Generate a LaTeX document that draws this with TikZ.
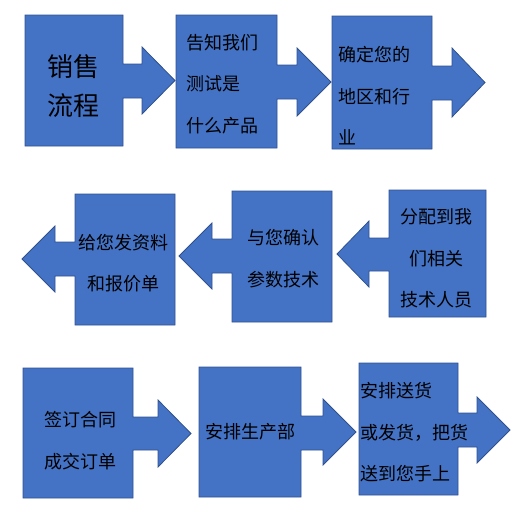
\documentclass[tikz,border=0pt]{standalone}
\usepackage{fontspec}
\newfontfamily\cjk{Noto Sans CJK SC}
\definecolor{boxfill}{HTML}{4472C4}
\definecolor{boxline}{HTML}{2F528F}
\begin{document}
\begin{tikzpicture}[x=1pt,y=-1pt,
  callout/.style={fill=boxfill,draw=boxline,line width=0.8pt,line join=miter},
  lbl/.style={inner sep=0pt,text=black,font=\cjk\fontsize{18}{41.5}\selectfont},
  biglbl/.style={inner sep=0pt,text=black,font=\cjk\fontsize{26}{39}\selectfont}]
\useasboundingbox (0,0) rectangle (520,512);
% row 1
\draw[callout] (25,15) -- (123,15) -- (123,64) -- (142,64) -- (142,47) -- (175,80.5) -- (142,114) -- (142,98) -- (123,98) -- (123,146) -- (25,146) -- cycle;
\draw[callout] (176,15) -- (277,15) -- (277,65) -- (297,65) -- (297,48) -- (331,82) -- (297,116) -- (297,99) -- (277,99) -- (277,148) -- (176,148) -- cycle;
\draw[callout] (332,16) -- (432,16) -- (432,66) -- (452,66) -- (452,48) -- (485,82.5) -- (452,117) -- (452,100) -- (432,100) -- (432,149) -- (332,149) -- cycle;
% row 2
\draw[callout] (175,194) -- (175,325) -- (75,325) -- (75,276) -- (55,276) -- (55,292) -- (22,259) -- (55,226) -- (55,242) -- (75,242) -- (75,194) -- cycle;
\draw[callout] (332,191) -- (332,322) -- (232,322) -- (232,273) -- (212,273) -- (212,289) -- (179,256) -- (212,223) -- (212,239) -- (232,239) -- (232,191) -- cycle;
\draw[callout] (486,190) -- (486,317) -- (389,317) -- (389,271) -- (369,271) -- (369,287) -- (337,254) -- (369,221) -- (369,238) -- (389,238) -- (389,190) -- cycle;
% row 3
\draw[callout] (23,368) -- (133,368) -- (133,417) -- (158,417) -- (158,400) -- (191,433.5) -- (158,467) -- (158,450) -- (133,450) -- (133,498) -- (23,498) -- cycle;
\draw[callout] (199,367) -- (301,367) -- (301,416) -- (323,416) -- (323,399) -- (356,432) -- (323,465) -- (323,450) -- (301,450) -- (301,497) -- (199,497) -- cycle;
\draw[callout] (359,363) -- (458,363) -- (458,413) -- (477,413) -- (477,397) -- (510,430) -- (477,463) -- (477,447) -- (458,447) -- (458,495) -- (359,495) -- cycle;
% labels
\node[biglbl,align=center] (t1) at (73,86) {销售\\流程};
\node[lbl,align=left,anchor=west] (t2) at (186,84) {告知我们\\测试是\\什么产品};
\node[lbl,align=left,anchor=west] (t3) at (338,96) {确定您的\\地区和行\\业};
\node[lbl,align=center] (t4) at (123,263) {给您发资料\\和报价单};
\node[lbl,align=center] (t5) at (283,258.5) {与您确认\\参数技术};
\node[lbl,align=center] (t6) at (436,258.5) {分配到我\\们相关\\技术人员};
\node[lbl,align=center] (t7) at (81,440.5) {签订合同\\成交订单};
\node[lbl,align=center] (t8) at (250,432) {安排生产部};
\node[lbl,align=left,anchor=west] (t9) at (360,432.5) {安排送货\\或发货，把货\\送到您手上};
\end{tikzpicture}
\end{document}
